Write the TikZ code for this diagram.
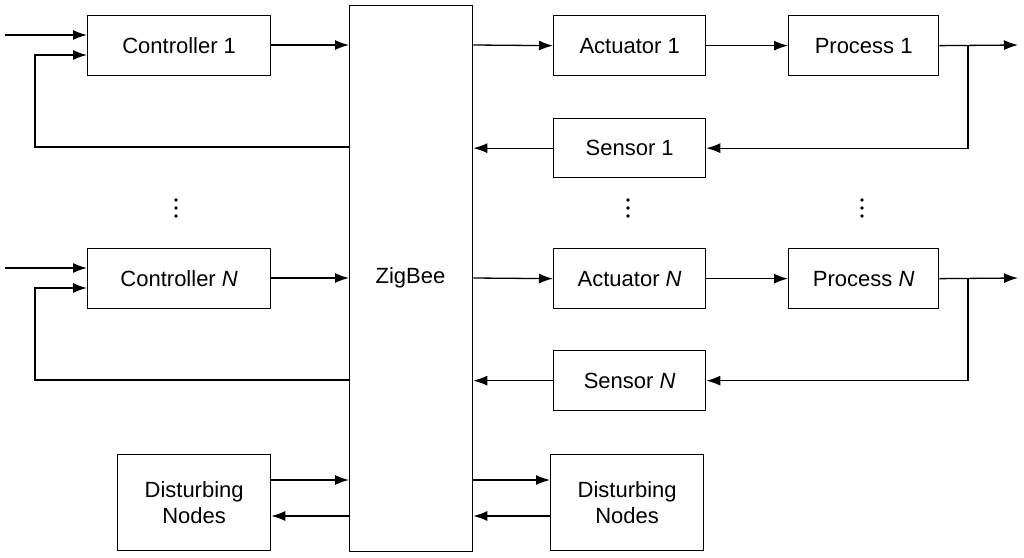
\documentclass[tikz,border=0pt]{standalone}
\usepackage{fontspec}
\setmainfont{Liberation Sans}
\usetikzlibrary{arrows.meta}
\begin{document}
\begin{tikzpicture}[x=1pt,y=-1pt,
 box/.style={draw,line width=1.3pt,inner sep=0pt},
 lbl/.style={font=\fontsize{22}{26}\selectfont,align=center},
 ar/.style={-{Latex[length=14pt,width=10pt]},line width=1.3pt},
 ln/.style={line width=1.3pt}]
\useasboundingbox (0,0) rectangle (1024,557);
\newcommand{\bx}[6]{\node[box,minimum width=#4-#2,minimum height=#5-#3,anchor=north west] (#1) at (#2,#3) {}; \node[lbl] at (#1.center) {#6};}
\bx{c1}{87}{15}{270}{75}{Controller 1}
\bx{cn}{87}{248}{270}{308}{Controller \textit{N}}
\bx{zb}{349}{5}{472}{551}{}
\node[lbl] (zbt) at (410.5,278) {ZigBee};
\bx{a1}{553}{15}{705}{75}{Actuator 1}
\bx{p1}{788}{15}{938}{75}{Process 1}
\bx{s1}{553}{118}{705}{177}{Sensor 1}
\bx{an}{553}{248}{705}{308}{Actuator \textit{N}}
\bx{pn}{788}{248}{938}{308}{Process \textit{N}}
\bx{sn}{553}{350}{705}{410}{Sensor \textit{N}}
\bx{dl}{117}{454}{270}{550}{Disturbing\\Nodes}
\bx{dr}{550}{454}{703}{550}{Disturbing\\Nodes}
\coordinate (i1) at (5,35); \coordinate (in) at (5,268);
\coordinate (o1) at (1018,45); \coordinate (on) at (1018,278);
% loop 1
\draw[ar] (i1) -- (i1 -| c1.west);
\draw[ar] (zb.west |- 0,147) -| (35,55) -- (c1.west |- 0,55);
\draw[ar] (c1.east |- 0,45) -- (zb.west |- 0,45);
\draw[ar] (zb.east |- 0,45) -- (a1.west);
\draw[ar] (a1.east) -- (p1.west);
\draw[ar] (p1.east) -- (o1);
\draw[ar] (968,45) |- (s1.east);
\draw[ar] (s1.west) -- (zb.east |- s1.west);
% loop N
\draw[ar] (in) -- (in -| cn.west);
\draw[ar] (zb.west |- 0,380) -| (35,288) -- (cn.west |- 0,288);
\draw[ar] (cn.east |- 0,278) -- (zb.west |- 0,278);
\draw[ar] (zb.east |- 0,278) -- (an.west);
\draw[ar] (an.east) -- (pn.west);
\draw[ar] (pn.east) -- (on);
\draw[ar] (968,278) |- (sn.east);
\draw[ar] (sn.west) -- (zb.east |- sn.west);
% disturbing
\draw[ar] (dl.east |- 0,480) -- (zb.west |- 0,480);
\draw[ar] (zb.west |- 0,516) -- (dl.east |- 0,516);
\draw[ar] (zb.east |- 0,480) -- (dr.west |- 0,480);
\draw[ar] (dr.west |- 0,516) -- (zb.east |- 0,516);
\foreach \x in {176,628,862}{\foreach \y in {200,208,216}{\fill (\x,\y) circle (1.8);}}
\end{tikzpicture}
\end{document}
